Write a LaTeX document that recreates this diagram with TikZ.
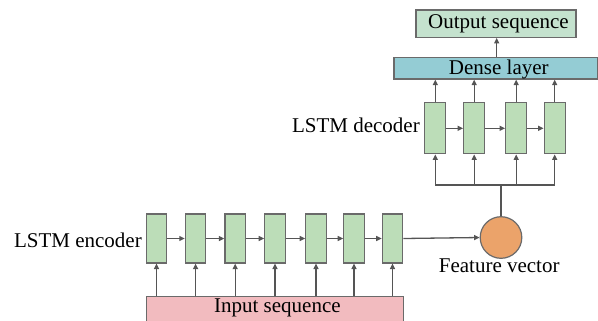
\documentclass[tikz,border=0pt]{standalone}
\usepackage{fontspec}
\setmainfont{Liberation Serif}
\usetikzlibrary{arrows.meta}
\definecolor{cellgreen}{HTML}{BCDDB8}
\definecolor{outgreen}{HTML}{C4E2CE}
\definecolor{densecol}{HTML}{94CCD4}
\definecolor{inpink}{HTML}{F2BBBF}
\definecolor{fvorange}{HTML}{EBA36A}
\definecolor{boxgray}{HTML}{6A6A6A}
\definecolor{linegray}{HTML}{555555}
\begin{document}
\begin{tikzpicture}[x=1bp,y=-1bp,
  txt/.style={font=\fontsize{21bp}{24bp}\selectfont},
  cell/.style={draw=boxgray, fill=cellgreen, line width=1.2bp, inner sep=0,
    minimum width=20.5bp, minimum height=49bp},
  dcell/.style={cell, minimum width=21bp, minimum height=51bp},
  bar/.style={draw=boxgray, line width=1.2bp, inner sep=0, txt},
  conn/.style={draw=linegray, line width=1.3bp, -{Triangle[length=5.5bp,width=5bp]}},
  plain/.style={draw=linegray, line width=1.3bp},
  lbl/.style={txt, inner sep=0},
]
\useasboundingbox (0,0) rectangle (598,320);

% encoder cells
\foreach \i/\x in {1/156.5,2/195.6,3/235.2,4/275,5/316,6/354,7/392.5}
  \node[cell] (e\i) at (\x,238.5) {};
% input bar
\node[bar, fill=inpink, minimum width=256.6bp, minimum height=26bp] (in) at (275,309.7) {};
\node[lbl, anchor=base] (intxt) at (277.4,312.7) {Input sequence};
\foreach \i in {1,...,7}
  \draw[conn] (in.north -| e\i) -- (e\i.south);
\foreach \i/\j in {1/2,2/3,3/4,4/5,5/6,6/7}
  \draw[conn] (e\i.east) -- (e\j.west);

% feature vector
\node[circle, draw=boxgray, fill=fvorange, line width=1.2bp, minimum size=41.6bp, inner sep=0] (fv) at (501,237.5) {};
\node[lbl, anchor=base] (fvtxt) at (499.2,272.5) {Feature vector};
\draw[conn] (e7.east) -- (fv.west);

% decoder cells
\foreach \i/\x in {1/435.3,2/474.2,3/516.2,4/554.7}
  \node[dcell] (d\i) at (\x,128.3) {};
\foreach \i/\j in {1/2,2/3,3/4}
  \draw[conn] (d\i.east) -- (d\j.west);
\coordinate (split) at (501,185);
\draw[plain] (fv.north) -- (split);
\draw[plain] (split -| d1) -- (split -| d4);
\foreach \i in {1,...,4}
  \draw[conn] (split -| d\i) -- (d\i.south);

% dense and output
\node[bar, fill=densecol, minimum width=203.3bp, minimum height=21.7bp] (dense) at (495.7,68.2) {};
\node[lbl, anchor=base] (densetxt) at (498.8,74) {Dense layer};
\foreach \i in {1,...,4}
  \draw[conn] (d\i.north) -- (d\i |- dense.south);
\node[bar, fill=outgreen, minimum width=160bp, minimum height=27.3bp] (out) at (496,23.6) {};
\node[lbl, anchor=base] (outtxt) at (498.5,28.5) {Output sequence};
\draw[conn] (dense.north -| 496.7,0) -- (out.south -| 496.7,0);

% labels
\node[lbl, anchor=base east] (enclbl) at (142,247.7) {LSTM encoder};
\node[lbl, anchor=base east] (declbl) at (420,132.7) {LSTM decoder};
\end{tikzpicture}
\end{document}
